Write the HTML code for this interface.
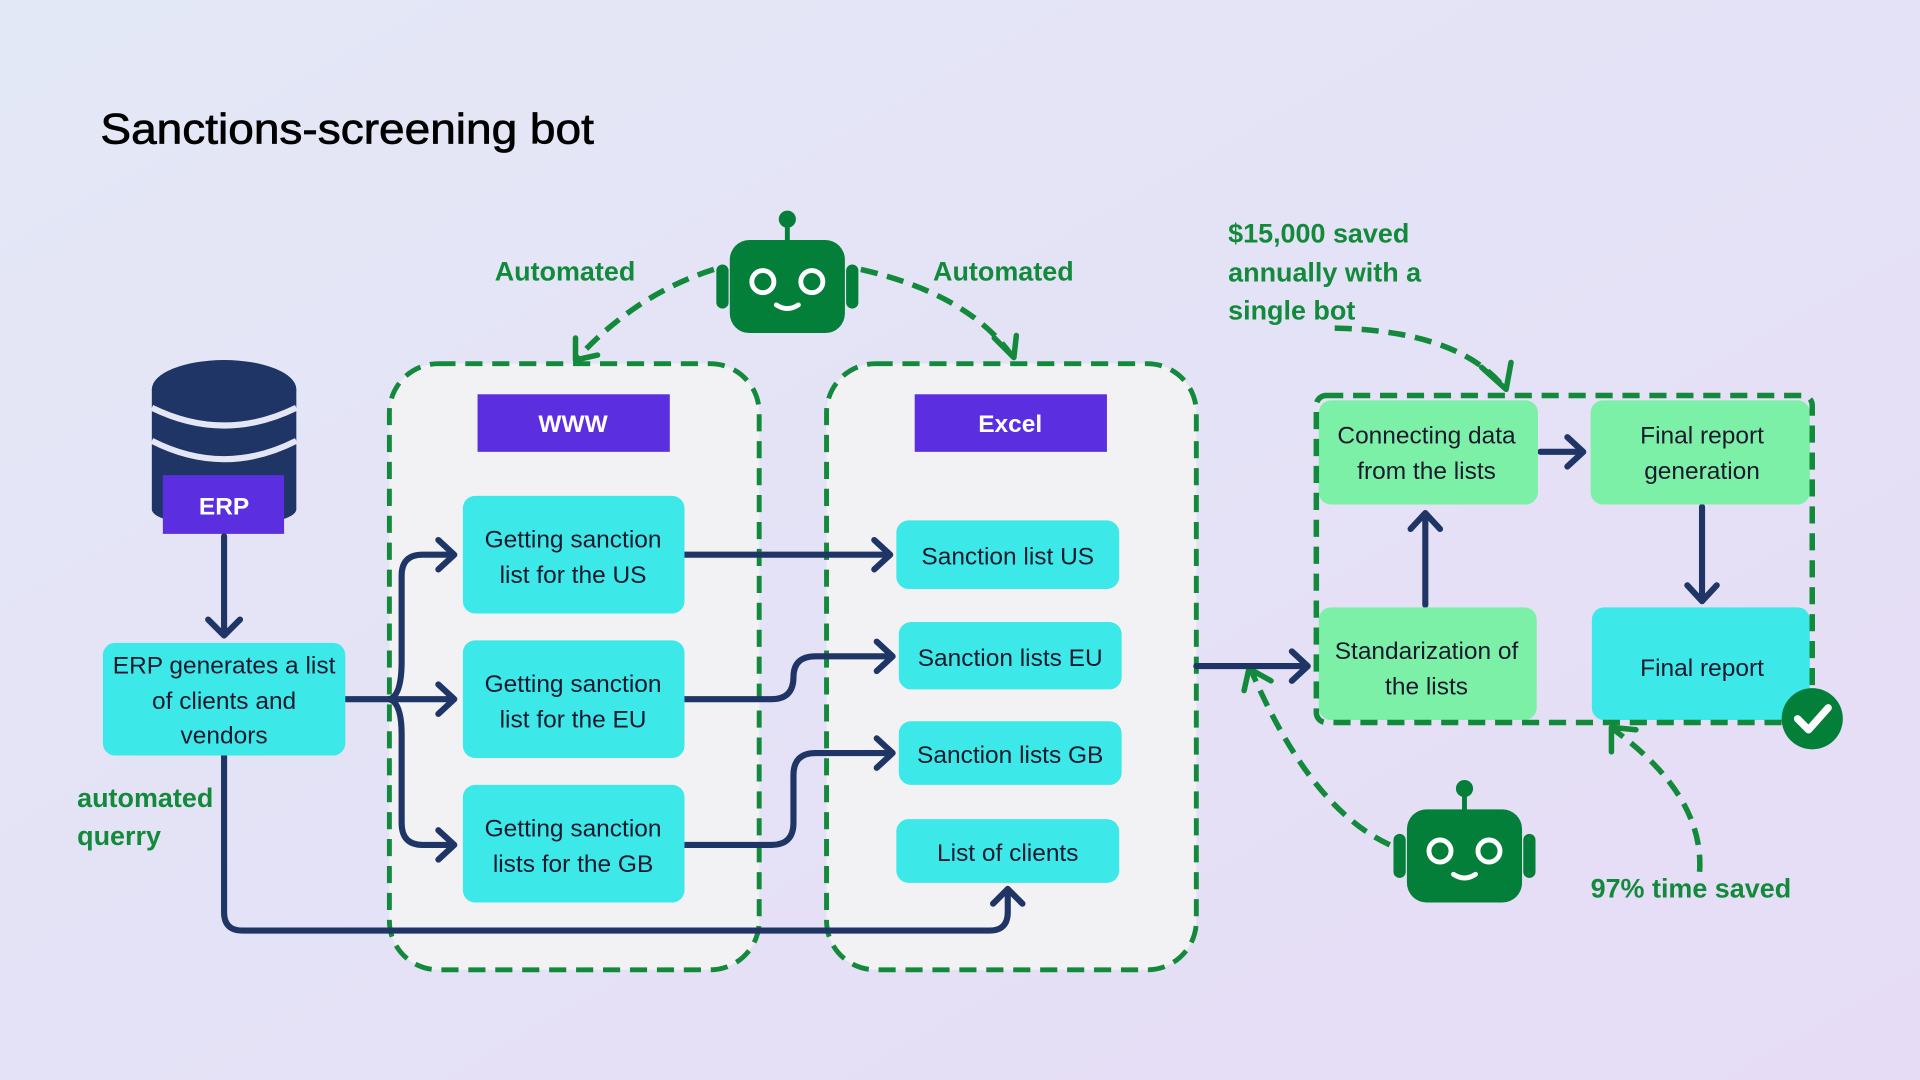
<!DOCTYPE html>
<html><head><meta charset="utf-8"><style>
html,body{margin:0;padding:0;width:1920px;height:1080px;overflow:hidden}
svg{display:block}
text{font-family:"Liberation Sans",sans-serif}
</style></head><body>
<svg width="1920" height="1080" viewBox="0 0 1568 882" xmlns="http://www.w3.org/2000/svg">
<defs>
<linearGradient id="bg" x1="0" y1="0" x2="1" y2="1">
<stop offset="0" stop-color="#e3e8f6"/><stop offset="1" stop-color="#e6dcf6"/>
</linearGradient>
<g id="bot">
<line x1="0" y1="-48" x2="0" y2="-32" stroke="#047f3a" stroke-width="4"/>
<circle cx="0" cy="-51" r="7" fill="#047f3a"/>
<rect x="-47" y="-34" width="94" height="76" rx="16" fill="#047f3a"/>
<rect x="-58" y="-14" width="10" height="36" rx="5" fill="#047f3a"/>
<rect x="48" y="-14" width="10" height="36" rx="5" fill="#047f3a"/>
<circle cx="-20" cy="0" r="9" fill="none" stroke="#fff" stroke-width="4"/>
<circle cx="20" cy="0" r="9" fill="none" stroke="#fff" stroke-width="4"/>
<path d="M-9 19 Q0 25 9 19" fill="none" stroke="#fff" stroke-width="4" stroke-linecap="round"/>
</g>
</defs>
<rect width="1568" height="882" fill="url(#bg)"/>
<text x="82" y="117" font-size="35" fill="#000" textLength="403" lengthAdjust="spacingAndGlyphs" stroke="#000" stroke-width="0.6">Sanctions-screening bot</text>

<g fill="#f2f2f4" stroke="#138a3b" stroke-width="4" stroke-dasharray="14 8">
<rect x="318" y="297" width="302" height="495" rx="40"/>
<rect x="675" y="297" width="302" height="495" rx="40"/>
</g>

<g fill="none" stroke="#138a3b" stroke-width="4.5" stroke-dasharray="14 8">
<path d="M583 220 Q520 240 472 292"/>
<path d="M703 220 Q790 240 826 290"/>
<path d="M1090 268 Q1190 270 1228 316"/>
<path d="M1135 690 Q1070 660 1022 548"/>
<path d="M1388 712 Q1392 650 1318 596"/>
</g>
<g fill="none" stroke="#138a3b" stroke-width="4.5" stroke-linecap="round" stroke-linejoin="round">
<path d="M470 276 L470 294 L488 290"/>
<path d="M812 276 L828 292 L830 274"/>
<path d="M1210 300 L1230 318 L1234 296"/>
<path d="M1016 564 L1020 546 L1038 556"/>
<path d="M1316 614 L1316 594 L1336 596"/>
</g>

<use href="#bot" x="643" y="230"/>
<use href="#bot" x="1196" y="695"/>

<g font-size="22" fill="#138a3b" font-weight="bold">
<text x="404" y="229">Automated</text>
<text x="762" y="229">Automated</text>
<text x="1003" y="198">$15,000 saved</text>
<text x="1003" y="230">annually with a</text>
<text x="1003" y="261">single bot</text>
<text x="63" y="659">automated</text>
<text x="63" y="690">querry</text>
<text x="1299" y="733">97% time saved</text>
</g>

<g fill="#1f3566">
<rect x="124" y="318" width="118" height="98" />
<ellipse cx="183" cy="416" rx="59" ry="14"/>
<ellipse cx="183" cy="318" rx="59" ry="24"/>
</g>
<g fill="none" stroke="#e4e6f6" stroke-width="5">
<path d="M124 333 Q183 362 242 333"/>
<path d="M124 360 Q183 390 242 360"/>
</g>
<rect x="133" y="388" width="99" height="48" fill="#5b2ee0"/>
<text x="183" y="420" font-size="20" font-weight="bold" fill="#fff" text-anchor="middle">ERP</text>

<rect x="390" y="322" width="157" height="47" fill="#5b2ee0"/>
<text x="468" y="353" font-size="20" font-weight="bold" fill="#fff" text-anchor="middle">WWW</text>
<rect x="747" y="322" width="157" height="47" fill="#5b2ee0"/>
<text x="825" y="353" font-size="20" font-weight="bold" fill="#fff" text-anchor="middle">Excel</text>

<g fill="none" stroke="#1f3566" stroke-width="5" stroke-linecap="round" stroke-linejoin="round">
<path d="M183 438 V518"/><path d="M170 506 L183 519 L196 506"/>
<path d="M282 571 H370"/><path d="M358 559 L371 571 L358 583"/>
<path d="M318 571 Q328 568 328 540 V470 Q328 453 345 453 H370"/><path d="M358 441 L371 453 L358 465"/>
<path d="M318 571 Q328 574 328 600 V672 Q328 690 345 690 H370"/><path d="M358 678 L371 690 L358 702"/>
<path d="M559 453 H726"/><path d="M714 441 L727 453 L714 465"/>
<path d="M559 571 H630 Q648 571 648 553 Q648 536 666 536 H728"/><path d="M716 524 L729 536 L716 548"/>
<path d="M559 690 H630 Q648 690 648 672 V633 Q648 615 666 615 H728"/><path d="M716 603 L729 615 L716 627"/>
<path d="M183 617 V745 Q183 760 198 760 H808 Q823 760 823 745 V726"/><path d="M811 738 L823 726 L835 738"/>
<path d="M977 544 H1067"/><path d="M1055 532 L1068 544 L1055 556"/>
<path d="M1164 494 V420"/><path d="M1152 432 L1164 419 L1176 432"/>
<path d="M1258 369 H1292"/><path d="M1280 357 L1293 369 L1280 381"/>
<path d="M1390 414 V490"/><path d="M1378 478 L1390 491 L1402 478"/>
</g>

<g fill="#3de8e8">
<rect x="84" y="525" width="198" height="92" rx="10"/>
<rect x="378" y="405" width="181" height="96" rx="10"/>
<rect x="378" y="523" width="181" height="96" rx="10"/>
<rect x="378" y="641" width="181" height="96" rx="10"/>
<rect x="732" y="425" width="182" height="56" rx="10"/>
<rect x="734" y="508" width="182" height="55" rx="10"/>
<rect x="734" y="589" width="182" height="52" rx="10"/>
<rect x="732" y="669" width="182" height="52" rx="10"/>
<rect x="1300" y="496" width="178" height="92" rx="10"/>
</g>
<g fill="#7df0a8">
<rect x="1077" y="327" width="179" height="85" rx="10"/>
<rect x="1299" y="327" width="179" height="85" rx="10"/>
<rect x="1077" y="496" width="178" height="92" rx="10"/>
</g>
<rect x="1075" y="323" width="405" height="267" rx="8" fill="none" stroke="#138a3b" stroke-width="4.5" stroke-dasharray="14 8"/>
<circle cx="1480" cy="587" r="25" fill="#047f3a"/>
<path d="M1468 587 L1477 596 L1493 578" fill="none" stroke="#fff" stroke-width="6" stroke-linecap="round" stroke-linejoin="round"/>

<g font-size="20" fill="#1a1a2e" text-anchor="middle">
<text x="183" y="550">ERP generates a list</text>
<text x="183" y="579">of clients and</text>
<text x="183" y="607">vendors</text>
<text x="468" y="447">Getting sanction</text>
<text x="468" y="476">list for the US</text>
<text x="468" y="565">Getting sanction</text>
<text x="468" y="594">list for the EU</text>
<text x="468" y="683">Getting sanction</text>
<text x="468" y="712">lists for the GB</text>
<text x="823" y="461">Sanction list US</text>
<text x="825" y="544">Sanction lists  EU</text>
<text x="825" y="623">Sanction lists GB</text>
<text x="823" y="703">List of clients</text>
<text x="1165" y="362">Connecting data</text>
<text x="1165" y="391">from the lists</text>
<text x="1390" y="362">Final report</text>
<text x="1390" y="391">generation</text>
<text x="1165" y="538">Standarization of</text>
<text x="1165" y="567">the lists</text>
<text x="1390" y="552">Final report</text>
</g>
</svg>
</body></html>
